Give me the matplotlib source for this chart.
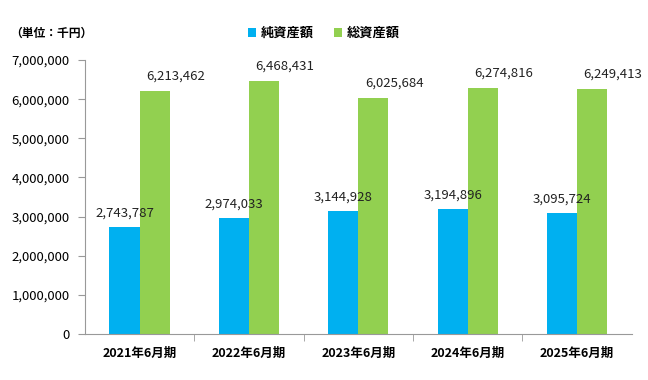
import numpy as np
import matplotlib.pyplot as plt
from matplotlib.ticker import FuncFormatter

plt.rcParams['font.family'] = ['Noto Sans CJK JP', 'DejaVu Sans']

# Data
periods = ['2021年6月期', '2022年6月期', '2023年6月期', '2024年6月期', '2025年6月期']
net_assets = [2743787, 2974033, 3144928, 3194896, 3095724]
total_assets = [6213462, 6468431, 6025684, 6274816, 6249413]
series_names = ['純資産額', '総資産額']

blue = '#00B0F0'
green = '#92D050'

fig = plt.figure(figsize=(6.48, 3.8), dpi=100)
ax = fig.add_axes([0.131, 0.121, 0.844, 0.721])

x = np.arange(len(periods))
w = 0.275
b1 = ax.bar(x - w / 2, net_assets, w, color=blue, label=series_names[0])
b2 = ax.bar(x + w / 2, total_assets, w, color=green, label=series_names[1])

for rect, v in zip(b1, net_assets):
    ax.annotate(f'{v:,}', (rect.get_x() + rect.get_width() / 2, v),
                xytext=(0, 5), textcoords='offset points', ha='center', va='bottom',
                fontsize=9.5, color='#222222')
for rect, v in zip(b2, total_assets):
    ax.annotate(f'{v:,}', (rect.get_x() + rect.get_width() / 2, v),
                xytext=(15, 6), textcoords='offset points', ha='center', va='bottom',
                fontsize=9.5, color='#222222')

ax.set_xlim(-0.5, len(periods) - 0.5)
ax.set_ylim(0, 7000000)
ax.set_yticks(np.arange(0, 7000001, 1000000))
ax.yaxis.set_major_formatter(FuncFormatter(lambda v, p: f'{int(v):,}'))
ax.set_xticks(x)
ax.set_xticklabels(periods, fontweight='bold', fontsize=9)
ax.tick_params(axis='x', length=0, pad=9)
ax.set_xticks(np.arange(0.5, len(periods) - 0.5, 1), minor=True)
ax.tick_params(axis='x', which='minor', length=5, color='#999999')
ax.tick_params(axis='y', length=5, color='#999999', labelsize=9.5, pad=6)

for s in ['top', 'right']:
    ax.spines[s].set_visible(False)
for s in ['left', 'bottom']:
    ax.spines[s].set_color('#999999')

fig.text(0.015, 0.913, '（単位：千円）', fontsize=8.5, fontweight='bold', ha='left', va='center')
fig.legend(loc='center', bbox_to_anchor=(0.5, 0.913), ncol=2, frameon=False,
           handlelength=0.6, handleheight=0.6, handletextpad=0.4, columnspacing=1.5,
           prop={'weight': 'bold', 'size': 9.5})

plt.savefig('out.png', dpi=100)
